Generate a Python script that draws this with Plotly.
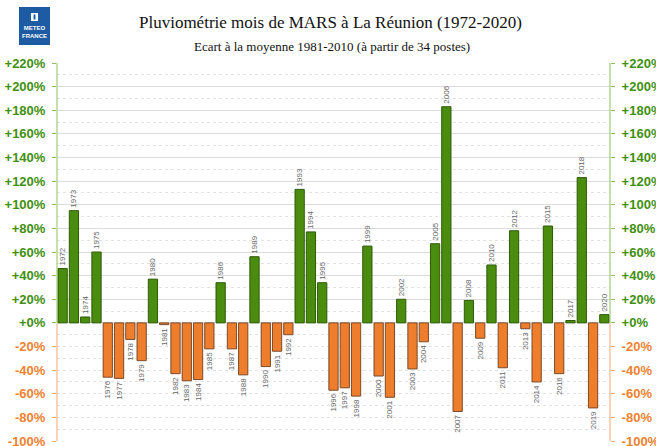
import plotly.graph_objects as go

years = list(range(1972, 2021))
ecart = [46, 95, 5, 60, -46, -47, -14, -32, 37,
         -1.5, -43, -49, -48, -22, 34, -22, -44, 56, -37,
         -24, -10, 113, 77, 34, -57, -55, -62, 65, -45,
         -63, 20, -39, -16, 67, 183, -75, 19, -13, 49,
         -38, 78, -5, -50, 82, -43, 2, 123, -72, 7]
pos_ticks = [0, 20, 40, 60, 80, 100, 120, 140, 160, 180, 200, 220]
neg_ticks = [-100, -80, -60, -40, -20]

GREEN = "#4a8c0e"
GREEN_TXT = "#3f9010"
GREEN_AX = "#8cc060"
ORANGE = "#ee7d2c"
ORANGE_TXT = "#f08230"
ORANGE_AX = "#f5a870"

colors = [GREEN if v >= 0 else ORANGE for v in ecart]
lines = ["#2e5a08" if v >= 0 else "#7a4a2a" for v in ecart]

fig = go.Figure()
fig.add_trace(go.Bar(
    x=years, y=ecart,
    marker=dict(color=colors, line=dict(color=lines, width=1)),
    text=[str(y) for y in years], textposition="outside", textangle=-90,
    textfont=dict(family="Liberation Sans", size=8, color="#666666"),
    constraintext="none", cliponaxis=False, showlegend=False,
    hoverinfo="x+y",
))
for ax in ["y2", "y3", "y4"]:
    fig.add_trace(go.Scatter(x=[years[0]], y=[0], yaxis=ax, mode="markers",
                             marker=dict(opacity=0), showlegend=False, hoverinfo="skip"))

R = [-100, 220]
tfont = dict(family="Liberation Sans", size=13, weight="bold")
common = dict(range=R, showline=False, zeroline=False, ticks="outside", ticklen=4,
              ticklabelstandoff=4, fixedrange=True, automargin=False,
              ticklabeloverflow="allow")

fig.update_layout(
    width=656, height=446,
    margin=dict(l=57, r=46, t=63, b=5, autoexpand=False),
    paper_bgcolor="white", plot_bgcolor="white",
    bargap=0.18,
    xaxis=dict(range=[1971.5, 2020.5], showticklabels=False, showgrid=False,
               zeroline=False, showline=False, ticks="", automargin=False,
               fixedrange=True),
    yaxis=dict(**common, side="left",
               tickvals=pos_ticks, ticktext=[("+%d%%" % v) for v in pos_ticks],
               tickfont=dict(color=GREEN_TXT, **tfont), tickcolor=GREEN_AX,
               showgrid=True, gridcolor="#dcdcdc", gridwidth=1,
               minor=dict(dtick=10, tick0=0, showgrid=True, gridcolor="#e2e2e2",
                          griddash="dot", ticks="")),
    yaxis3=dict(**common, side="left", overlaying="y",
                tickvals=neg_ticks, ticktext=[("%d%%" % v) for v in neg_ticks],
                tickfont=dict(color=ORANGE_TXT, **tfont), tickcolor=ORANGE_AX,
                showgrid=False),
    yaxis2=dict(**common, side="right", overlaying="y",
                tickvals=pos_ticks, ticktext=[("+%d%%" % v) for v in pos_ticks],
                tickfont=dict(color=GREEN_TXT, **tfont), tickcolor=GREEN_AX,
                showgrid=False),
    yaxis4=dict(**common, side="right", overlaying="y",
                tickvals=neg_ticks, ticktext=[("%d%%" % v) for v in neg_ticks],
                tickfont=dict(color=ORANGE_TXT, **tfont), tickcolor=ORANGE_AX,
                showgrid=False),
)

for xp in [0, 1]:
    fig.add_shape(type="line", xref="paper", yref="y", x0=xp, x1=xp, y0=0, y1=220,
                  line=dict(color=GREEN_AX, width=1))
    fig.add_shape(type="line", xref="paper", yref="y", x0=xp, x1=xp, y0=-100, y1=0,
                  line=dict(color=ORANGE_AX, width=1))

# logo
fig.add_shape(type="rect", xref="paper", yref="paper",
              x0=(19 - 57) / 553, x1=(50 - 57) / 553,
              y0=(441 - 45) / 378, y1=(441 - 7) / 378,
              fillcolor="#1d5ba3", line=dict(width=0), layer="below")
fig.add_shape(type="rect", xref="paper", yref="paper",
              x0=(31 - 57) / 553, x1=(38 - 57) / 553,
              y0=(441 - 21) / 378, y1=(441 - 13) / 378,
              fillcolor="white", line=dict(width=0), layer="below")
fig.add_shape(type="rect", xref="paper", yref="paper",
              x0=(33.5 - 57) / 553, x1=(35.5 - 57) / 553,
              y0=(441 - 19.5) / 378, y1=(441 - 14.5) / 378,
              fillcolor="#1d5ba3", line=dict(width=0), layer="below")
fig.add_annotation(xref="paper", yref="paper", x=(34.5 - 57) / 553, y=(441 - 32) / 378,
                   text="<b>METEO<br>FRANCE</b>", showarrow=False,
                   xanchor="center", yanchor="middle",
                   font=dict(family="Liberation Sans", size=6, color="white"))

# titles
fig.add_annotation(xref="paper", yref="paper", x=(330 - 57) / 553, y=(441 - 22) / 378,
                   text="Pluviométrie mois de MARS à La Réunion (1972-2020)",
                   showarrow=False, xanchor="center", yanchor="middle",
                   font=dict(family="Liberation Serif", size=17, color="#111111"))
fig.add_annotation(xref="paper", yref="paper", x=(332 - 57) / 553, y=(441 - 46) / 378,
                   text="Ecart à la moyenne 1981-2010 (à partir de 34 postes)",
                   showarrow=False, xanchor="center", yanchor="middle",
                   font=dict(family="Liberation Serif", size=13, color="#111111"))

fig.write_html("out.html", config={"displayModeBar": False},
               post_script="document.body.style.margin='0';")
